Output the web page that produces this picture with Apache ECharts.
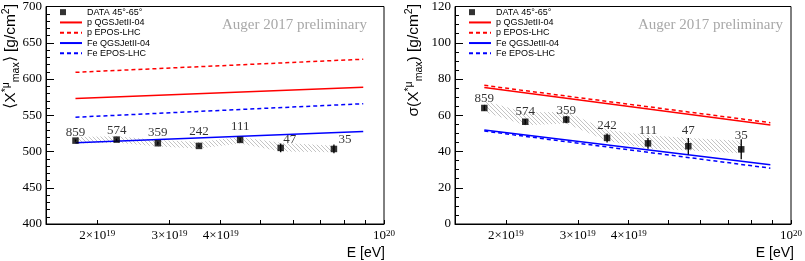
<!DOCTYPE html>
<html><head><meta charset="utf-8">
<script src="https://cdn.jsdelivr.net/npm/echarts@6/dist/echarts.min.js"></script>
<style>html,body{margin:0;padding:0;background:#fff}#c{width:805px;height:261px}</style>
</head><body><div id="c"></div>
<script>
// ---- data ----
const energies = [1.77e19, 2.23e19, 2.81e19, 3.54e19, 4.46e19, 5.60e19, 7.55e19];
const eventCounts = [859, 574, 359, 242, 111, 47, 35];

const meanXmax = [515, 516.4, 511.4, 507.7, 516, 505, 503.5];
const meanXmaxErr = [1.5, 1.5, 2, 2, 3, 6, 6];
const meanSysUp = [520, 521, 516, 513, 520, 512, 508];
const meanSysLow = [511, 512, 507, 504, 511, 500, 499];

const sigmaXmax = [64, 56.4, 57.6, 47.5, 44.5, 42.9, 41.2];
const sigmaXmaxErr = [1.5, 1.5, 2, 2.5, 3, 4.5, 5.5];
const sigmaSysUp = [68, 61.5, 62, 52, 49, 47.5, 46];
const sigmaSysLow = [62, 54.5, 55.5, 46, 41.5, 40.5, 39];

const modelEnergies = [1.77e19, 8.9e19];
const meanPQGS = [573.2, 588.6];
const meanPEPOS = [609.2, 627.3];
const meanFeQGS = [512, 527.7];
const meanFeEPOS = [547.3, 565.9];
const sigmaPQGS = [75.3, 54.6];
const sigmaPEPOS = [76.5, 55.9];
const sigmaFeQGS = [51.9, 32.7];
const sigmaFeEPOS = [51.3, 30.8];

const xTickEnergies = [2e19, 3e19, 4e19, 5e19, 6e19, 7e19, 8e19, 9e19, 1e20];
const xLabelEnergies = [2e19, 3e19, 4e19, 1e20];
const xLabelTexts = ['2×10^19', '3×10^19', '4×10^19', '10^20'];

const seriesNames = ['DATA 45°-65°', 'p QGSJetII-04', 'p EPOS-LHC', 'Fe QGSJetII-04', 'Fe EPOS-LHC'];

// label offsets (px) relative to each point
const meanLabelOffsets = [[0,-8],[0,-9],[0,-11],[0,-14],[0,-13],[9,-8],[11,-9]];
const sigmaLabelOffsets = [[0,-9],[0,-10],[0,-9],[0,-12],[0,-13],[0,-16],[0,-14]];

// ---- helpers ----
const lg = Math.log10;
const RED = '#ff0000', BLUE = '#0000ff';
const SERIF = '"Liberation Serif", "Times New Roman", serif';
const SANS = '"Liberation Sans", Arial, sans-serif';

function hatchCanvas() {
  const c = document.createElement('canvas');
  c.width = 4; c.height = 4;
  const ctx = c.getContext('2d');
  ctx.fillStyle = '#c4c4c4';
  for (let i = 0; i < 4; i++) ctx.fillRect(i, i, 1, 1);
  return c;
}
const hatch = hatchCanvas();

function pts(xs, ys) { return xs.map((e, i) => [lg(e), ys[i]]); }

function xAxisDef(gi) {
  return {
    type: 'value', gridIndex: gi, min: lg(1.5e19), max: 20,
    axisLine: {show: true, lineStyle: {color: '#000', width: 1}},
    axisTick: {show: true, inside: true, length: 4, customValues: xTickEnergies.map(lg), lineStyle: {color: '#000'}},
    axisLabel: {
      show: true, margin: 5, customValues: xLabelEnergies.map(lg),
      formatter: v => {
        let idx = xLabelEnergies.findIndex(e => Math.abs(lg(e) - v) < 1e-6);
        if (idx < 0) return '';
        const parts = xLabelTexts[idx].split('^');
        return '{b|' + parts[0] + '}{s|' + parts[1] + '}';
      },
      rich: {
        b: {fontFamily: SERIF, fontSize: 13, color: '#000', lineHeight: 13, padding: [4, 0, 0, 0], verticalAlign: 'bottom'},
        s: {fontFamily: SERIF, fontSize: 9, color: '#000', lineHeight: 9, verticalAlign: 'top'}
      }
    },
    splitLine: {show: false}
  };
}
function yAxisDef(gi, min, max, interval, minorSplit) {
  return {
    type: 'value', gridIndex: gi, min, max, interval,
    axisLine: {show: true, onZero: false, lineStyle: {color: '#000', width: 1}},
    axisTick: {show: true, inside: true, length: 8, lineStyle: {color: '#000'}},
    minorTick: {show: true, splitNumber: minorSplit, length: 4, lineStyle: {color: '#000'}},
    axisLabel: {fontFamily: SERIF, fontSize: 13, color: '#000', margin: 4},
    splitLine: {show: false}
  };
}
function modelLine(name, gi, ys, color, dashed) {
  return {
    type: 'line', name, xAxisIndex: gi, yAxisIndex: gi, data: pts(modelEnergies, ys),
    symbol: 'none', silent: true, z: 3,
    lineStyle: {color, width: 1.5, type: dashed ? [4, 3] : 'solid'},
    itemStyle: {color}
  };
}
function bandSeries(gi, up, low) {
  return {
    type: 'custom', xAxisIndex: gi, yAxisIndex: gi, silent: true, z: 1,
    data: [[lg(energies[0]), up[0]]],
    renderItem: (params, api) => {
      const top = energies.map((e, i) => api.coord([lg(e), up[i]]));
      const bot = energies.map((e, i) => api.coord([lg(e), low[i]])).reverse();
      return {type: 'polygon', shape: {points: top.concat(bot)},
              style: {fill: {image: hatch, repeat: 'repeat'}, stroke: null}};
    }
  };
}
function errSeries(gi, vals, errs) {
  return {
    type: 'custom', xAxisIndex: gi, yAxisIndex: gi, silent: true, z: 4,
    data: energies.map((e, i) => [lg(e), vals[i], errs[i]]),
    encode: {x: 0, y: 1},
    renderItem: (params, api) => {
      const x = api.value(0), y = api.value(1), er = api.value(2);
      const a = api.coord([x, y - er]), b = api.coord([x, y + er]);
      return {type: 'line', shape: {x1: a[0], y1: a[1], x2: b[0], y2: b[1]}, style: {stroke: '#000', lineWidth: 1.3}};
    }
  };
}
function dataSeries(gi, vals, offsets) {
  return {
    type: 'scatter', name: seriesNames[0], xAxisIndex: gi, yAxisIndex: gi, z: 5, silent: true,
    symbol: 'square', symbolSize: 6.5, itemStyle: {color: '#000'},
    data: energies.map((e, i) => ({value: [lg(e), vals[i]], label: {offset: offsets[i]}})),
    label: {show: true, position: 'inside', color: '#000', fontFamily: SERIF, fontSize: 13,
            formatter: p => String(eventCounts[p.dataIndex])}
  };
}
function legendDef(left) {
  const hideSym = {opacity: 0};
  return {
    left, top: 7, orient: 'vertical', padding: 0, itemWidth: 22, itemHeight: 6, itemGap: 0,
    selectedMode: false,
    textStyle: {fontFamily: SANS, fontSize: 9, color: '#000', lineHeight: 10.3},
    data: [
      {name: seriesNames[0], icon: 'square'},
      {name: seriesNames[1], itemStyle: hideSym},
      {name: seriesNames[2], itemStyle: hideSym},
      {name: seriesNames[3], itemStyle: hideSym},
      {name: seriesNames[4], itemStyle: hideSym}
    ]
  };
}
const titleRich = {
  n: {fontFamily: SANS, fontSize: 15.5, lineHeight: 21, fill: '#000'},
  sup: {fontFamily: SANS, fontSize: 10.5, lineHeight: 10, verticalAlign: 'top', fill: '#000'},
  sub: {fontFamily: SANS, fontSize: 10.5, lineHeight: 10, verticalAlign: 'bottom', fill: '#000'}
};
function yTitle(x, text) {
  return {type: 'text', x, y: 4, rotation: Math.PI / 2, z: 10,
    style: {text, rich: titleRich, align: 'right', verticalAlign: 'middle', textAlign: 'right', textVerticalAlign: 'middle', fill: '#000'}};
}
function plainText(x, y, text, font, fill, align) {
  return {type: 'text', x, y, z: 10,
    style: {text, font, fill, align, verticalAlign: 'middle', textAlign: align, textVerticalAlign: 'middle'}};
}

const option = {
  animation: false,
  backgroundColor: '#fff',
  grid: [
    {left: 46, right: 421, top: 5, bottom: 37, show: true, borderColor: '#000', borderWidth: 1, backgroundColor: 'transparent'},
    {left: 455, right: 11, top: 5, bottom: 37, show: true, borderColor: '#000', borderWidth: 1, backgroundColor: 'transparent'}
  ],
  xAxis: [xAxisDef(0), xAxisDef(1)],
  yAxis: [yAxisDef(0, 400, 700, 50, 5), yAxisDef(1, 0, 120, 20, 4)],
  legend: [legendDef(59), legendDef(468)],
  series: [
    bandSeries(0, meanSysUp, meanSysLow),
    modelLine(seriesNames[1], 0, meanPQGS, RED, false),
    modelLine(seriesNames[2], 0, meanPEPOS, RED, true),
    modelLine(seriesNames[3], 0, meanFeQGS, BLUE, false),
    modelLine(seriesNames[4], 0, meanFeEPOS, BLUE, true),
    errSeries(0, meanXmax, meanXmaxErr),
    dataSeries(0, meanXmax, meanLabelOffsets),
    bandSeries(1, sigmaSysUp, sigmaSysLow),
    modelLine(seriesNames[1], 1, sigmaPQGS, RED, false),
    modelLine(seriesNames[2], 1, sigmaPEPOS, RED, true),
    modelLine(seriesNames[3], 1, sigmaFeQGS, BLUE, false),
    modelLine(seriesNames[4], 1, sigmaFeEPOS, BLUE, true),
    errSeries(1, sigmaXmax, sigmaXmaxErr),
    dataSeries(1, sigmaXmax, sigmaLabelOffsets)
  ],
  graphic: [
    yTitle(11, '{n|⟨X}{sup|*μ}{sub|max}{n|⟩ [g/cm}{sup|2}{n|]}'),
    yTitle(414, '{n|σ(X}{sup|*μ}{sub|max}{n|) [g/cm}{sup|2}{n|]}'),
    plainText(385, 253.5, 'E [eV]', '14px ' + SANS, '#000', 'right'),
    plainText(794, 253.5, 'E [eV]', '14px ' + SANS, '#000', 'right'),
    plainText(367, 25, 'Auger 2017 preliminary', '15px ' + SERIF, '#a8a8a8', 'right'),
    plainText(783, 25, 'Auger 2017 preliminary', '15px ' + SERIF, '#a8a8a8', 'right')
  ]
};
const chart = echarts.init(document.getElementById('c'), null, {renderer: 'canvas'});
chart.setOption(option);
</script>
</body></html>
